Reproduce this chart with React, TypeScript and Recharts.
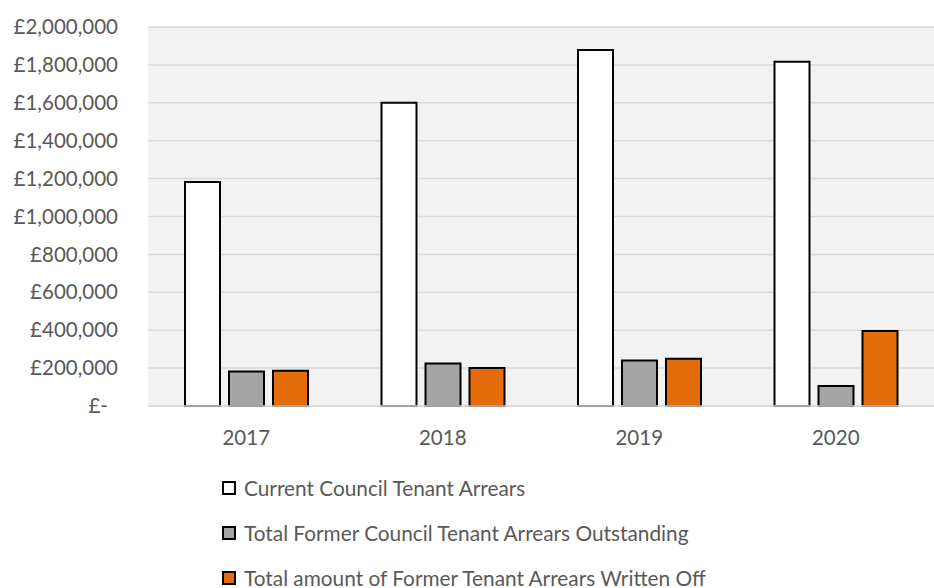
// Bar chart: council tenant arrears by year, three series with outlined bars.
import { BarChart, Bar, XAxis, YAxis, CartesianGrid, Legend } from 'recharts';

const years = ['2017', '2018', '2019', '2020'];
const currentArrears = [1182000, 1600000, 1879000, 1817000];
const formerOutstanding = [182000, 224000, 240000, 105000];
const writtenOff = [186000, 200000, 249000, 396000];
const yTicks = [0, 200000, 400000, 600000, 800000, 1000000, 1200000, 1400000, 1600000, 1800000, 2000000];

const data = years.map((year, i) => ({
  year,
  current: currentArrears[i],
  former: formerOutstanding[i],
  writtenOff: writtenOff[i],
}));

const FONT = 'Lato, "Open Sans", sans-serif';
const TEXT = '#595959';
const AXIS_FS = 20.5;
const LEGEND_FS = 20.8;

function fmt(v: number) {
  if (v === 0) return '£-';
  return '£' + v.toLocaleString('en-GB');
}

function YTick({ x, y, payload }: any) {
  const shift = payload.value === 0 ? 10 : 0;
  return (
    <text
      x={x - shift}
      y={y}
      dy="0.35em"
      textAnchor="end"
      fill={TEXT}
      fontSize={AXIS_FS}
      fontFamily={FONT}
    >
      {fmt(payload.value)}
    </text>
  );
}

function LegendBox({ payload }: any) {
  return (
    <div style={{ fontFamily: FONT, fontSize: LEGEND_FS, color: TEXT, lineHeight: '22px' }}>
      {(payload || []).map((p: any) => (
        <div key={p.value} style={{ display: 'flex', alignItems: 'center', height: 45 }}>
          <span
            style={{
              width: 14,
              height: 14,
              flex: 'none',
              boxSizing: 'border-box',
              border: '2px solid #000',
              background: p.payload?.fill ?? p.color,
              marginRight: 8,
            }}
          />
          <span style={{ whiteSpace: 'nowrap' }}>{p.value}</span>
        </div>
      ))}
    </div>
  );
}

export default function App() {
  return (
    <div style={{ position: 'absolute', left: 0, top: 0, background: '#fff' }}>
      <BarChart
        width={934}
        height={588}
        data={data}
        margin={{ top: 27, right: 0, left: 0, bottom: 152 }}
        barSize={35}
        barGap={9}
        style={{ fontFamily: FONT }}
      >
        <CartesianGrid vertical={false} stroke="#d9d9d9" strokeWidth={1.5} fill="#f2f2f2" />
        <XAxis
          dataKey="year"
          height={30}
          tickSize={0}
          tickMargin={24}
          axisLine={{ stroke: '#d9d9d9', strokeWidth: 1.5 }}
          tick={{ fill: TEXT, fontSize: AXIS_FS, fontFamily: FONT }}
        />
        <YAxis
          width={148}
          domain={[0, 2000000]}
          ticks={yTicks}
          interval={0}
          tickSize={0}
          tickMargin={30}
          axisLine={false}
          tickLine={false}
          tick={<YTick />}
        />
        <Legend
          layout="horizontal"
          verticalAlign="middle"
          align="center"
          wrapperStyle={{ top: 465, left: 222, width: 700 }}
          content={<LegendBox />}
        />
        <Bar
          dataKey="current"
          name="Current Council Tenant Arrears"
          fill="#ffffff"
          stroke="#000000"
          strokeWidth={2}
          isAnimationActive={false}
        />
        <Bar
          dataKey="former"
          name="Total Former Council Tenant Arrears Outstanding"
          fill="#a5a5a5"
          stroke="#000000"
          strokeWidth={2}
          isAnimationActive={false}
        />
        <Bar
          dataKey="writtenOff"
          name="Total amount of Former Tenant Arrears Written Off"
          fill="#e46c0a"
          stroke="#000000"
          strokeWidth={2}
          isAnimationActive={false}
        />
      </BarChart>
    </div>
  );
}
